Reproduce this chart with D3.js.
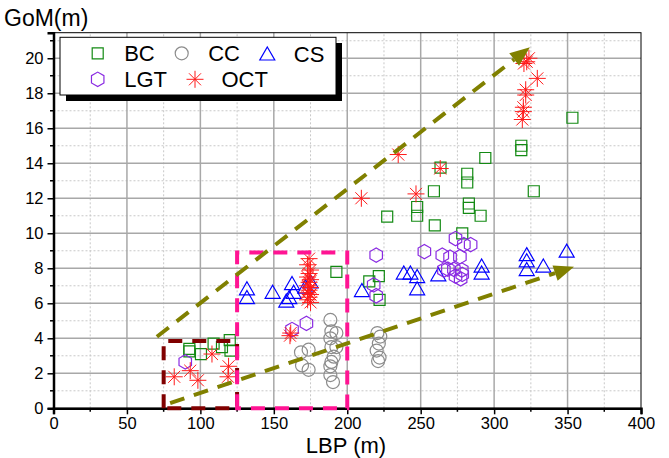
<!DOCTYPE html>
<html>
<head>
<meta charset="utf-8">
<script src="https://cdn.jsdelivr.net/npm/d3@7"></script>
<style>
body { margin: 0; background: #fff; }
text { font-family: "Liberation Sans", Arial, sans-serif; }
</style>
</head>
<body>
<svg id="plot1" width="669" height="458"></svg>
<script>
// data: [LBP, GoM]
var bcData = [[92.5,3.4],[92.5,3.25],[100.4,3.1],[109,3.7],[114.7,3.5],[120,3.9],[120.5,3.3],[192.6,7.8],[215,7.25],[221.5,7.55],[222,6.2],[227.2,10.95],[247.6,11.5],[247.6,11.0],[259,12.4],[259.6,10.45],[263.5,13.75],[278.3,10.0],[281.7,13.4],[281.7,12.9],[282.8,11.7],[282.8,11.45],[290.8,11.0],[294,14.3],[318.5,15.0],[318.5,14.75],[327,12.4],[353.3,16.6]];
var ccData = [[168.5,3.2],[173.7,3.35],[169.2,2.45],[173.7,2.2],[188.5,5.05],[189.2,4.4],[192.6,4.3],[188.5,4.0],[189.2,3.5],[192.6,3.5],[190.8,2.95],[189.2,2.65],[188.5,2.4],[188.5,1.9],[190.3,1.5],[220.5,4.3],[222.5,4.1],[221.5,3.7],[220,3.3],[222,2.9],[221,2.7]];
var csData = [[131.7,6.8],[131.7,6.3],[149.2,6.6],[162.4,7.1],[163.5,6.6],[160.5,6.3],[158.5,6.1],[175,7.2],[171.5,6.9],[210,6.7],[238.5,7.7],[243,7.7],[247.6,7.5],[247.6,6.8],[262,7.6],[291.5,8.1],[291.5,7.7],[322.2,8.75],[322.2,8.4],[322.2,7.9],[333.5,8.1],[349.4,8.95]];
var lgtData = [[89.7,2.65],[162.4,4.5],[172.2,4.85],[218,7.05],[219.7,6.43],[219.7,8.75],[252.5,8.95],[264.7,8.75],[270,8.63],[276.7,8.66],[273.7,9.7],[279.4,9.35],[284,9.35],[265.8,7.9],[268.5,7.95],[272.6,7.94],[278,7.9],[273.7,7.55],[277.2,7.4],[278.3,7.65]];
var octData = [[82.2,1.8],[93.1,2.15],[98.3,1.6],[107.9,3.1],[119.2,2.4],[118.8,1.8],[161.5,4.3],[161,4.15],
  [174,8.55],[173,8.2],[175,7.9],[174,7.7],[173,7.5],[175,7.35],[174,7.2],[173,7.0],[175,6.9],[174,6.75],[173,6.6],[175,6.5],[174,6.35],[173,6.2],[175,6.05],
  [209.6,12.0],[234.7,14.5],[246.8,12.25],[263.3,13.7],
  [320.3,19.7],[322.2,19.8],[323.7,20.0],[329.4,18.85],[321.5,18.2],[321.5,17.9],[319.9,17.2],[319.9,16.95],[319.2,16.5]];

var xTicks = [0,50,100,150,200,250,300,350,400];
var yTicks = [0,2,4,6,8,10,12,14,16,18,20];

// annotations (data units)
var upperArrow = [[70.4,4.09],[324.4,20.63]];
var lowerArrow = [[79.4,0.29],[354.4,8.09]];
var darkBox = [75,0,125,3.85];
var pinkBox = [125,0,200,8.9];

var svg = d3.select("#plot1");
var x = d3.scaleLinear().domain([0,400]).range([53.5,641]);
var y = d3.scaleLinear().domain([0,21.46]).range([408.3,32.7]);

var g = svg.append("g");

// grid: minor dashed, major solid
g.selectAll(".xminor").data(d3.range(25,400,50)).enter().append("line")
  .attr("x1",d=>x(d)).attr("x2",d=>x(d)).attr("y1",y(0)).attr("y2",y(21.46))
  .attr("stroke","#c8c8c8").attr("stroke-width",1).attr("stroke-dasharray","2,2");
g.selectAll(".yminor").data(d3.range(1,22,2)).enter().append("line")
  .attr("x1",x(0)).attr("x2",x(400)).attr("y1",d=>y(d)).attr("y2",d=>y(d))
  .attr("stroke","#c8c8c8").attr("stroke-width",1).attr("stroke-dasharray","2,2");
g.selectAll(".xmajor").data(xTicks.slice(1,-1)).enter().append("line")
  .attr("x1",d=>x(d)).attr("x2",d=>x(d)).attr("y1",y(0)).attr("y2",y(21.46))
  .attr("stroke","#a8a8a8").attr("stroke-width",1.5);
g.selectAll(".ymajor").data(yTicks.slice(1)).enter().append("line")
  .attr("x1",x(0)).attr("x2",x(400)).attr("y1",d=>y(d)).attr("y2",d=>y(d))
  .attr("stroke","#a8a8a8").attr("stroke-width",1.5);

// frame
g.append("rect").attr("x",x(0)).attr("y",y(21.46)).attr("width",x(400)-x(0)).attr("height",y(0)-y(21.46))
  .attr("fill","none").attr("stroke","#000").attr("stroke-width",1);

// axes
var xAxis = d3.axisBottom(x).tickValues(xTicks).tickSize(6).tickPadding(3);
var gx = g.append("g").attr("transform","translate(0,"+y(0)+")").call(xAxis);
gx.selectAll(".tick line").attr("stroke-width",1.5);
gx.select(".domain").attr("stroke-width",2.5);
gx.selectAll("text").attr("font-size",16.5).attr("fill","#000").attr("font-family","Liberation Sans, Arial");
g.selectAll(".xmt").data(d3.range(25,400,50)).enter().append("line")
  .attr("x1",d=>x(d)).attr("x2",d=>x(d)).attr("y1",y(0)).attr("y2",y(0)+3.5).attr("stroke","#000").attr("stroke-width",1.5);

var yAxis = d3.axisLeft(y).tickValues(yTicks).tickSize(6).tickPadding(4);
var gy = g.append("g").attr("transform","translate("+x(0)+",0)").call(yAxis);
gy.selectAll(".tick line").attr("stroke-width",1.5);
gy.select(".domain").attr("stroke-width",2.5);
gy.selectAll("text").attr("font-size",16.5).attr("fill","#000").attr("font-family","Liberation Sans, Arial");
g.selectAll(".ymt").data(d3.range(1,22,2)).enter().append("line")
  .attr("x1",x(0)-3.5).attr("x2",x(0)).attr("y1",d=>y(d)).attr("y2",d=>y(d)).attr("stroke","#000").attr("stroke-width",1.5);

// axis titles
svg.append("text").attr("x",4).attr("y",26).attr("font-size",23).text("GoM(m)");
svg.append("text").attr("x",346).attr("y",453).attr("text-anchor","middle").attr("font-size",22).text("LBP (m)");

// marker shapes
var hexPath = function(r){
  var p = [];
  for (var i=0;i<6;i++){ var a = Math.PI/6 + i*Math.PI/3; p.push([r*Math.cos(a), r*Math.sin(a)]); }
  return "M"+p.join("L")+"Z";
};
var starPath = function(r){
  var s = "";
  for (var i=0;i<4;i++){ var a = i*Math.PI/4; s += "M"+(-r*Math.cos(a))+","+(-r*Math.sin(a))+"L"+(r*Math.cos(a))+","+(r*Math.sin(a)); }
  return s;
};
var shapes = {
  square: "M-5.5,-5.5H5.5V5.5H-5.5Z",
  circle: "M6.5,0A6.5,6.5 0 1,1 -6.5,0A6.5,6.5 0 1,1 6.5,0Z",
  triangle: "M0,-7.5L7.5,5.5H-7.5Z",
  hexagon: hexPath(7.2),
  star: starPath(8.5)
};

function drawSeries(data, shape, color){
  g.selectAll(null).data(data).enter().append("path")
    .attr("d",shapes[shape])
    .attr("transform",d=>"translate("+x(d[0])+","+y(d[1])+")")
    .attr("fill","none").attr("stroke",color).attr("stroke-width",shape=="star"?1:1.2);
}
drawSeries(ccData,"circle","#8c8c8c");
drawSeries(bcData,"square","#138a13");
drawSeries(csData,"triangle","#0000ff");
drawSeries(lgtData,"hexagon","#8a2be2");
drawSeries(octData,"star","#ff1a1a");

// dashed boxes
function box(b, color){
  g.append("path")
    .attr("d","M"+x(b[0])+","+y(b[1])+"V"+y(b[3])+"H"+x(b[2])+"V"+y(b[1])+"Z")
    .attr("fill","none").attr("stroke",color).attr("stroke-width",4).attr("stroke-dasharray","14,10");
}
box(darkBox,"#800000");
box(pinkBox,"#ff1493");

// olive arrows
function arrow(a){
  var x1 = x(a[0][0]), y1 = y(a[0][1]), x2 = x(a[1][0]), y2 = y(a[1][1]);
  var ang = Math.atan2(y2-y1, x2-x1), L = 20, W = 8;
  var bx = x2 - L*Math.cos(ang), by = y2 - L*Math.sin(ang);
  g.append("line").attr("x1",x1).attr("y1",y1).attr("x2",bx).attr("y2",by)
    .attr("stroke","#808000").attr("stroke-width",4).attr("stroke-dasharray","15,10");
  g.append("path")
    .attr("d","M"+x2+","+y2+"L"+(bx+W*Math.sin(ang))+","+(by-W*Math.cos(ang))+"L"+(bx-W*Math.sin(ang))+","+(by+W*Math.cos(ang))+"Z")
    .attr("fill","#808000");
}
arrow(upperArrow);
arrow(lowerArrow);

// legend
var lg = svg.append("g");
lg.append("rect").attr("x",66).attr("y",43).attr("width",276).attr("height",58).attr("fill","#000");
lg.append("rect").attr("x",60).attr("y",37.3).attr("width",276).attr("height",57.7).attr("fill","#fff").attr("stroke","#000").attr("stroke-width",1);
var legendItems = [
  {name:"BC", shape:"square", color:"#138a13", sx:97.7, sy:53.3},
  {name:"CC", shape:"circle", color:"#8c8c8c", sx:181.7, sy:53.3},
  {name:"CS", shape:"triangle", color:"#0000ff", sx:267.3, sy:54.5},
  {name:"LGT", shape:"hexagon", color:"#8a2be2", sx:97.7, sy:79.3},
  {name:"OCT", shape:"star", color:"#ff1a1a", sx:195, sy:79.3}
];
legendItems.forEach(function(d){
  lg.append("path").attr("d",shapes[d.shape]).attr("transform","translate("+d.sx+","+d.sy+")")
    .attr("fill","none").attr("stroke",d.color).attr("stroke-width",d.shape=="star"?1:1.2);
  lg.append("text").attr("x",d.sx+26.5).attr("y",d.sy+7.5).attr("font-size",22).text(d.name);
});
</script>
</body>
</html>
